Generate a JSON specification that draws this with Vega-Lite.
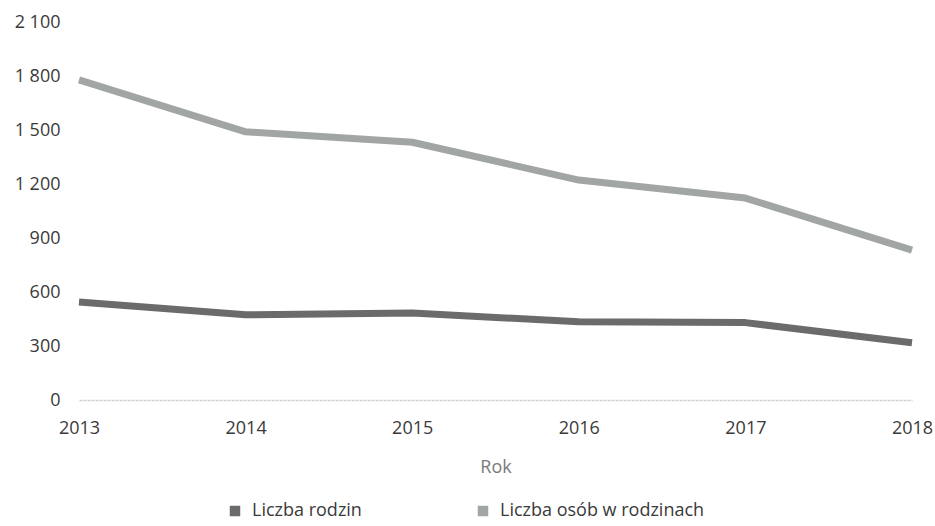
{
  "$schema": "https://vega.github.io/schema/vega-lite/v6.json",
  "width": 833,
  "height": 378,
  "autosize": "none",
  "padding": {"left": 79, "top": 22, "right": 23, "bottom": 126},
  "background": "white",
  "config": {
    "view": {"stroke": null},
    "font": "Open Sans"
  },
  "data": {
    "values": [
      {"rok": 2013, "seria": "Liczba rodzin", "wartosc": 545},
      {"rok": 2014, "seria": "Liczba rodzin", "wartosc": 473},
      {"rok": 2015, "seria": "Liczba rodzin", "wartosc": 483},
      {"rok": 2016, "seria": "Liczba rodzin", "wartosc": 435},
      {"rok": 2017, "seria": "Liczba rodzin", "wartosc": 430},
      {"rok": 2018, "seria": "Liczba rodzin", "wartosc": 318},
      {"rok": 2013, "seria": "Liczba osób w rodzinach", "wartosc": 1778},
      {"rok": 2014, "seria": "Liczba osób w rodzinach", "wartosc": 1490},
      {"rok": 2015, "seria": "Liczba osób w rodzinach", "wartosc": 1432},
      {"rok": 2016, "seria": "Liczba osób w rodzinach", "wartosc": 1222},
      {"rok": 2017, "seria": "Liczba osób w rodzinach", "wartosc": 1122},
      {"rok": 2018, "seria": "Liczba osób w rodzinach", "wartosc": 833}
    ]
  },
  "mark": {"type": "line", "strokeWidth": 7, "strokeCap": "butt", "strokeJoin": "round"},
  "encoding": {
    "x": {
      "field": "rok",
      "type": "quantitative",
      "scale": {"domain": [2013, 2018], "nice": false, "zero": false},
      "axis": {
        "title": "Rok",
        "values": [2013, 2014, 2015, 2016, 2017, 2018],
        "format": "d",
        "grid": false,
        "ticks": false,
        "tickSize": 0,
        "labelFlush": false,
        "labelPadding": 19,
        "labelFontSize": 18,
        "labelColor": "#3a3a3a",
        "titleFontSize": 18,
        "titleFontWeight": "normal",
        "titleColor": "#7a7a7a",
        "titlePadding": 21,
        "domainColor": "#cfcfcf",
        "domainDash": [3, 1],
        "domainWidth": 1.5
      }
    },
    "y": {
      "field": "wartosc",
      "type": "quantitative",
      "scale": {"domain": [0, 2100], "nice": false},
      "axis": {
        "title": null,
        "values": [0, 300, 600, 900, 1200, 1500, 1800, 2100],
        "labelExpr": "replace(format(datum.value, ','), ',', ' ')",
        "grid": false,
        "domain": false,
        "ticks": false,
        "tickSize": 0,
        "labelPadding": 19,
        "labelFontSize": 18,
        "labelColor": "#3a3a3a"
      }
    },
    "color": {
      "field": "seria",
      "type": "nominal",
      "sort": ["Liczba rodzin", "Liczba osób w rodzinach"],
      "scale": {
        "domain": ["Liczba rodzin", "Liczba osób w rodzinach"],
        "range": ["#6b6b6b", "#a1a6a5"]
      },
      "legend": {
        "title": null,
        "orient": "none",
        "legendX": 147,
        "legendY": 480,
        "direction": "horizontal",
        "symbolType": "square",
        "symbolSize": 110,
        "symbolStrokeWidth": 0,
        "labelFontSize": 18,
        "labelColor": "#3a3a3a",
        "labelOffset": 8,
        "labelLimit": 400,
        "columnPadding": 112,
        "encode": {
          "symbols": {
            "update": {
              "fill": {"scale": "color", "field": "value"},
              "fillOpacity": {"value": 1},
              "strokeWidth": {"value": 0}
            }
          }
        }
      }
    }
  }
}
